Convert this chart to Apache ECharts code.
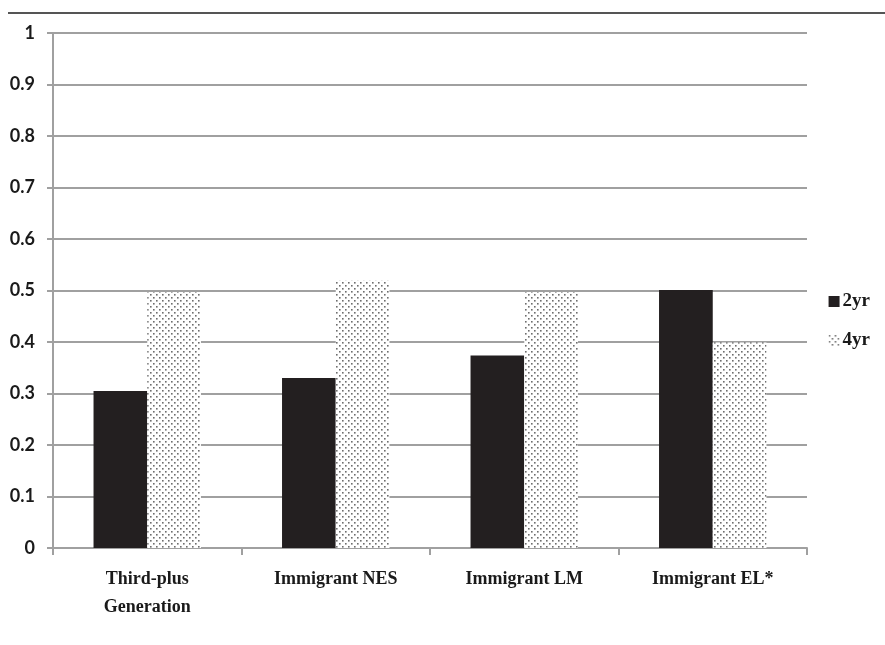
<!DOCTYPE html>
<html>
<head>
<meta charset="utf-8">
<script src="https://cdn.jsdelivr.net/npm/echarts@6/dist/echarts.min.js"></script>
<style>
  html, body { margin: 0; padding: 0; background: #fff; }
  #rule { position: absolute; left: 8px; right: 0; top: 12px; height: 2px; background: #555; }
  #chart { width: 885px; height: 645px; }
</style>
</head>
<body>
<div id="rule"></div>
<div id="chart"></div>
<script>
const categories = ["Third-plus\nGeneration", "Immigrant NES", "Immigrant LM", "Immigrant EL*"];
const twoYear = [0.305, 0.33, 0.374, 0.501];
const fourYear = [0.497, 0.519, 0.497, 0.399];
const yTicks = [0, 0.1, 0.2, 0.3, 0.4, 0.5, 0.6, 0.7, 0.8, 0.9, 1];

// dotted fill used for the 4yr bars
function dotPattern() {
  const c = document.createElement("canvas");
  c.width = 6;
  c.height = 6;
  const ctx = c.getContext("2d");
  ctx.fillStyle = "#ffffff";
  ctx.fillRect(0, 0, 6, 6);
  ctx.fillStyle = "#6e6e6e";
  ctx.fillRect(0, 0, 1.6, 1.6);
  ctx.fillRect(3, 3, 1.6, 1.6);
  return c;
}

const chart = echarts.init(document.getElementById("chart"));
const pattern = { image: dotPattern(), repeat: "repeat" };
const serif = "'Liberation Serif', serif";

chart.setOption({
  animation: false,
  grid: { left: 53, right: 78, top: 33, bottom: 97 },
  legend: {
    orient: "vertical",
    right: 10,
    top: 287,
    itemWidth: 11,
    itemHeight: 11,
    itemGap: 20,
    icon: "rect",
    textStyle: { fontFamily: serif, fontWeight: "bold", fontSize: 19, color: "#1a1a1a", padding: [0, 0, 0, -2] },
    data: [
      { name: "2yr", itemStyle: { color: "#231f20" } },
      { name: "4yr", itemStyle: { color: pattern } }
    ]
  },
  xAxis: {
    type: "category",
    data: categories,
    axisLine: { lineStyle: { color: "#a0a0a0", width: 2 } },
    axisTick: { show: true, length: 7, lineStyle: { color: "#a0a0a0", width: 2 } },
    axisLabel: { fontFamily: serif, fontWeight: "bold", fontSize: 18, color: "#1a1a1a", margin: 17, lineHeight: 28 }
  },
  yAxis: {
    type: "value",
    min: 0,
    max: 1,
    interval: 0.1,
    axisLine: { show: true, lineStyle: { color: "#a0a0a0", width: 2 } },
    axisTick: { show: true, length: 6, lineStyle: { color: "#a0a0a0", width: 2 } },
    splitLine: { lineStyle: { color: "#a0a0a0", width: 2 } },
    axisLabel: {
      fontFamily: "Lato, sans-serif",
      fontWeight: "bold",
      fontSize: 18,
      color: "#1a1a1a",
      margin: 18,
      formatter: (v) => {
        const t = yTicks.find((x) => Math.abs(x - v) < 1e-9);
        return t === undefined ? "" : String(t);
      }
    }
  },
  series: [
    {
      name: "2yr",
      type: "bar",
      data: twoYear,
      barGap: "0%",
      barCategoryGap: "43%",
      itemStyle: { color: "#231f20" }
    },
    {
      name: "4yr",
      type: "bar",
      data: fourYear,
      itemStyle: { color: pattern }
    }
  ]
});
</script>
</body>
</html>
